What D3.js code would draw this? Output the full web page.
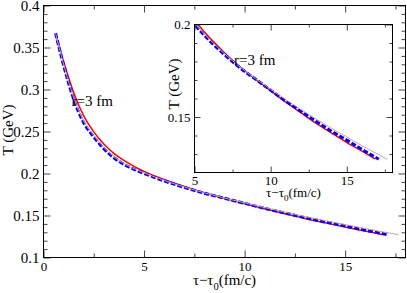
<!DOCTYPE html>
<html>
<head>
<meta charset="utf-8">
<script src="https://cdn.jsdelivr.net/npm/d3@7"></script>
<style>
  body { margin: 0; background: #fff; }
  svg { display: block; font-family: "Liberation Serif", "DejaVu Serif", serif; }
</style>
</head>
<body>
<div id="chart"></div>
<script>
// Curve data (tau - tau0 in fm/c, T in GeV)
const tauRed  = [0.6, 0.9, 1.2, 1.5, 2.0, 2.5, 2.75, 3.0, 3.25, 3.5, 4.0, 4.5, 5.0, 6.0, 7.0, 8.0, 9.0, 10.0, 11.0, 12.0, 13.0, 14.0, 15.0, 16.0, 16.85];
const tempRed = [0.367, 0.3415, 0.318, 0.2965, 0.2685, 0.2495, 0.242, 0.2352, 0.2292, 0.224, 0.2155, 0.2085, 0.2025, 0.1928, 0.1845, 0.177, 0.1705, 0.1642, 0.158, 0.1522, 0.1465, 0.1413, 0.1362, 0.1315, 0.1273];

const tauBlue  = [0.6, 0.9, 1.2, 1.5, 2.0, 2.5, 2.75, 3.0, 3.25, 3.5, 4.0, 4.5, 5.0, 6.0, 7.0, 8.0, 9.0, 10.0, 11.0, 12.0, 13.0, 14.0, 15.0, 16.0, 17.1];
const tempBlue = [0.367, 0.338, 0.3115, 0.2885, 0.2605, 0.2435, 0.2362, 0.2295, 0.2237, 0.2187, 0.2108, 0.205, 0.2, 0.1912, 0.1835, 0.1765, 0.1705, 0.1645, 0.1585, 0.153, 0.1475, 0.1423, 0.1375, 0.1325, 0.1272];

const tauTan  = [0.6, 0.9, 1.2, 1.5, 2.0, 2.5, 3.0, 3.5, 4.0, 5.0, 6.0, 7.0, 8.0, 9.0, 10.0, 11.0, 12.0, 13.0, 14.0, 15.0, 16.0, 17.0, 17.65];
const tempTan = [0.367, 0.339, 0.313, 0.2905, 0.2625, 0.245, 0.231, 0.22, 0.2118, 0.2008, 0.1918, 0.184, 0.177, 0.1708, 0.165, 0.1594, 0.154, 0.1488, 0.1439, 0.1392, 0.1345, 0.13, 0.1272];

// Tick values and labels
const mainXTicks = [0, 5, 10, 15];
const mainYTicks = [0.1, 0.15, 0.2, 0.25, 0.3, 0.35, 0.4];
const mainYLabels = ['0.1', '0.15', '0.2', '0.25', '0.3', '0.35', '0.4'];
const insetXTicks = [5, 10, 15];
const insetYTicks = [0.15, 0.2];
const insetYLabels = ['0.15', '0.2'];

const width = 407;
const height = 293;

const svg = d3.select('#chart')
    .append('svg')
    .attr('width', width)
    .attr('height', height);

// Build [x, y] pairs for a series
function toPoints(xs, ys) {
    return xs.map((d, i) => [d, ys[i]]);
}

// Draw frame, ticks on all four sides (pointing inward) and tick labels
function drawAxes(g, x, y, cfg) {
    const [left, right] = x.range();
    const [bottom, top] = y.range();

    const styleTicks = sel => {
        sel.select('.domain').remove();
        sel.selectAll('.tick line').attr('stroke', '#444');
        sel.selectAll('.tick text')
            .attr('font-family', '"Liberation Serif", serif')
            .attr('fill', '#000');
    };

    // major ticks with labels
    g.append('g')
        .attr('transform', `translate(0,${bottom})`)
        .call(d3.axisBottom(x).tickValues(cfg.xTicks).tickSize(-cfg.major).tickPadding(cfg.xPad).tickFormat(d3.format('d')))
        .call(styleTicks)
        .selectAll('text').attr('font-size', cfg.xFont);

    g.append('g')
        .attr('transform', `translate(${left},0)`)
        .call(d3.axisLeft(y).tickValues(cfg.yTicks).tickSize(-cfg.major).tickPadding(cfg.yPad).tickFormat((d, i) => cfg.yLabels[i]))
        .call(styleTicks)
        .selectAll('text').attr('font-size', cfg.yFont);

    // opposite sides, no labels
    g.append('g')
        .attr('transform', `translate(0,${top})`)
        .call(d3.axisTop(x).tickValues(cfg.xTicks).tickSize(-cfg.major).tickFormat(() => ''))
        .call(styleTicks);

    g.append('g')
        .attr('transform', `translate(${right},0)`)
        .call(d3.axisRight(y).tickValues(cfg.yTicks).tickSize(-cfg.major).tickFormat(() => ''))
        .call(styleTicks);

    // minor ticks
    const minorAxes = [
        [d3.axisBottom(x).tickValues(cfg.xMinor), `translate(0,${bottom})`],
        [d3.axisTop(x).tickValues(cfg.xMinor), `translate(0,${top})`],
        [d3.axisLeft(y).tickValues(cfg.yMinor), `translate(${left},0)`],
        [d3.axisRight(y).tickValues(cfg.yMinor), `translate(${right},0)`]
    ];
    minorAxes.forEach(([axis, tr]) => {
        g.append('g')
            .attr('transform', tr)
            .call(axis.tickSize(-cfg.minor).tickFormat(() => ''))
            .call(styleTicks);
    });

    // frame
    g.append('rect')
        .attr('x', left)
        .attr('y', top)
        .attr('width', right - left)
        .attr('height', bottom - top)
        .attr('fill', 'none')
        .attr('stroke', '#000')
        .attr('stroke-width', 1);
}

// Draw the three curves
function drawCurves(g, x, y) {
    const line = d3.line()
        .x(d => x(d[0]))
        .y(d => y(d[1]))
        .curve(d3.curveMonotoneX);

    g.append('path')
        .datum(toPoints(tauRed, tempRed))
        .attr('d', line)
        .attr('fill', 'none')
        .attr('stroke', '#ff0000')
        .attr('stroke-width', 1.5);

    g.append('path')
        .datum(toPoints(tauBlue, tempBlue))
        .attr('d', line)
        .attr('fill', 'none')
        .attr('stroke', '#0000ff')
        .attr('stroke-width', 3)
        .attr('stroke-dasharray', '5,2');

    g.append('path')
        .datum(toPoints(tauTan, tempTan))
        .attr('d', line)
        .attr('fill', 'none')
        .attr('stroke', '#c9a3a3')
        .attr('stroke-width', 1);
}

// x-axis title with subscript
function xTitle(g, cx, cy, size) {
    const t = g.append('text')
        .attr('x', cx)
        .attr('y', cy)
        .attr('text-anchor', 'middle')
        .attr('font-size', size);
    t.append('tspan').text('τ−τ');
    t.append('tspan').attr('dy', size * 0.3).attr('font-size', size * 0.7).text('0');
    t.append('tspan').attr('dy', -size * 0.3).text('(fm/c)');
}

function yTitle(g, cx, cy, size) {
    g.append('text')
        .attr('transform', `translate(${cx},${cy}) rotate(-90)`)
        .attr('text-anchor', 'middle')
        .attr('font-size', size)
        .text('T (GeV)');
}

// ---- main plot ----
const xMain = d3.scaleLinear().domain([0, 18]).range([43.5, 405.5]);
const yMain = d3.scaleLinear().domain([0.1, 0.4]).range([257.5, 5.5]);

const mainG = svg.append('g');
drawCurves(mainG, xMain, yMain);
drawAxes(mainG, xMain, yMain, {
    xTicks: mainXTicks, yTicks: mainYTicks, yLabels: mainYLabels,
    xMinor: [2.5, 7.5, 12.5, 17.5],
    yMinor: d3.range(11, 40).filter(v => v % 5 !== 0).map(v => v / 100),
    major: 7, minor: 4, xPad: 4, yPad: 4, xFont: 13, yFont: 15
});
xTitle(mainG, 224.5, 285, 15);
yTitle(mainG, 13, 130, 15);

mainG.append('text')
    .attr('x', 71.5)
    .attr('y', 105.5)
    .attr('font-size', 15)
    .text('r=3 fm');

// ---- inset ----
const xInset = d3.scaleLinear().domain([5, 18]).range([194.5, 392.5]);
const yInset = d3.scaleLinear().domain([0.12, 0.2]).range([172.5, 24.5]);

const insetG = svg.append('g');
insetG.append('rect')
    .attr('x', 194.5)
    .attr('y', 24.5)
    .attr('width', 198)
    .attr('height', 148)
    .attr('fill', '#fff');

svg.append('clipPath')
    .attr('id', 'insetClip')
    .append('rect')
    .attr('x', 194.5)
    .attr('y', 24.5)
    .attr('width', 198)
    .attr('height', 148);

drawCurves(insetG.append('g').attr('clip-path', 'url(#insetClip)'), xInset, yInset);
drawAxes(insetG, xInset, yInset, {
    xTicks: insetXTicks, yTicks: insetYTicks, yLabels: insetYLabels,
    xMinor: [7.5, 12.5, 17.5],
    yMinor: d3.range(13, 20).filter(v => v % 5 !== 0).map(v => v / 100),
    major: 6, minor: 3, xPad: 3, yPad: 4, xFont: 13, yFont: 13
});
xTitle(insetG, 293.5, 197, 13);
yTitle(insetG, 179, 84, 15);

insetG.append('text')
    .attr('x', 234)
    .attr('y', 65)
    .attr('font-size', 15)
    .text('r=3 fm');
</script>
</body>
</html>
